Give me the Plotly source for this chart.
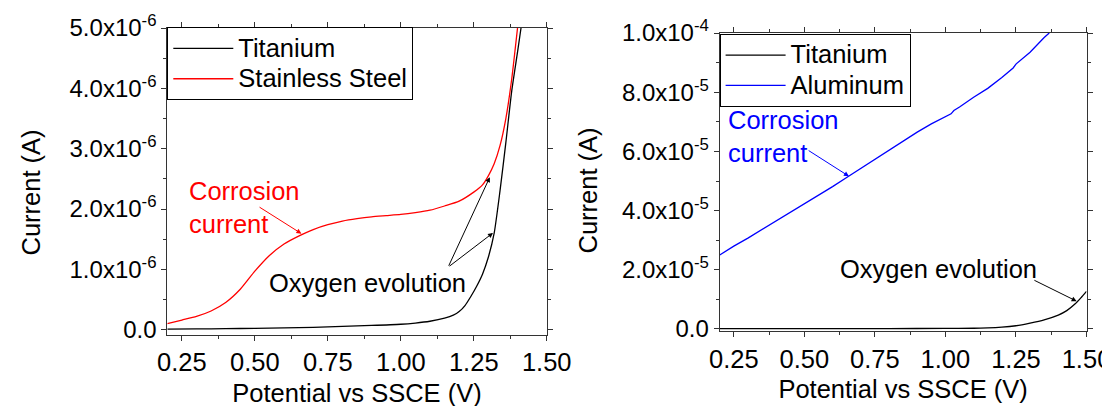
import plotly.graph_objects as go

FONT = "Liberation Sans, Arial, sans-serif"

# ---------------- data (left panel, current in units of 1e-6 A) ----------------
ti_left_x = [0.2, 0.3, 0.4, 0.5, 0.6, 0.7, 0.8, 0.9, 1.0, 1.05, 1.1, 1.15, 1.18, 1.2,
             1.22, 1.24, 1.26, 1.28, 1.3, 1.32, 1.34, 1.36, 1.38, 1.40, 1.412]
ti_left_y = [0.01, 0.012, 0.017, 0.022, 0.03, 0.04, 0.055, 0.07, 0.09, 0.11, 0.14, 0.19,
             0.24, 0.30, 0.40, 0.55, 0.72, 0.92, 1.2, 1.6, 2.3, 3.1, 3.95, 4.6, 5.0]

ss_x = [0.2, 0.25, 0.3, 0.35, 0.4, 0.45, 0.5, 0.55, 0.6, 0.65, 0.7, 0.75, 0.8, 0.85,
        0.9, 0.95, 1.0, 1.05, 1.1, 1.15, 1.2, 1.25, 1.28, 1.3, 1.32, 1.34, 1.36, 1.38, 1.40]
ss_y = [0.10, 0.16, 0.22, 0.31, 0.45, 0.67, 0.97, 1.23, 1.42, 1.55, 1.66, 1.74, 1.80, 1.84,
        1.87, 1.89, 1.91, 1.94, 1.98, 2.05, 2.13, 2.28, 2.40, 2.55, 2.75, 3.05, 3.5, 4.15, 5.0]

# ---------------- data (right panel, current in units of 1e-5 A) ----------------
ti_right_x = [0.2, 0.4, 0.6, 0.8, 1.0, 1.1, 1.15, 1.2, 1.25, 1.3, 1.35, 1.4, 1.43, 1.46, 1.48, 1.5]
ti_right_y = [0.01, 0.01, 0.012, 0.015, 0.02, 0.025, 0.035, 0.06, 0.11, 0.2, 0.31, 0.47,
              0.62, 0.85, 1.05, 1.27]

al_x = [0.2, 0.25, 0.3, 0.35, 0.4, 0.45, 0.5, 0.55, 0.6, 0.65, 0.7, 0.75, 0.8, 0.85, 0.9,
        0.95, 1.0, 1.02, 1.03, 1.05, 1.1, 1.15, 1.2, 1.24, 1.25, 1.3, 1.35, 1.368]
al_y = [2.5, 2.8, 3.07, 3.36, 3.64, 3.92, 4.21, 4.50, 4.81, 5.12, 5.43, 5.75, 6.05, 6.35,
        6.65, 6.93, 7.17, 7.27, 7.38, 7.5, 7.83, 8.13, 8.5, 8.82, 8.95, 9.35, 9.85, 10.0]

# ---------------- tick labels / titles ----------------
x_tick_vals = [0.25, 0.50, 0.75, 1.00, 1.25, 1.50]
x_tick_text = ["0.25", "0.50", "0.75", "1.00", "1.25", "1.50"]

left_y_tick_vals = [0, 1e-6, 2e-6, 3e-6, 4e-6, 5e-6]
left_y_tick_text = ["0.0", "1.0x10<sup>-6</sup>", "2.0x10<sup>-6</sup>", "3.0x10<sup>-6</sup>",
                    "4.0x10<sup>-6</sup>", "5.0x10<sup>-6</sup>"]
right_y_tick_vals = [0, 2e-5, 4e-5, 6e-5, 8e-5, 1e-4]
right_y_tick_text = ["0.0", "2.0x10<sup>-5</sup>", "4.0x10<sup>-5</sup>", "6.0x10<sup>-5</sup>",
                     "8.0x10<sup>-5</sup>", "1.0x10<sup>-4</sup>"]

x_title = "Potential vs SSCE (V)"
y_title = "Current (A)"

W, H = 1110, 406
TXT = 25.5
LEG_TXT = '<span style="font-size:25.5px">{}</span>'

fig = go.Figure()
line_w = 1.3
fig.add_trace(go.Scatter(x=ti_left_x, y=[v * 1e-6 for v in ti_left_y], mode="lines",
                         name=LEG_TXT.format("Titanium"),
                         line=dict(color="black", width=line_w, shape="spline", smoothing=0.6),
                         xaxis="x", yaxis="y", legend="legend"))
fig.add_trace(go.Scatter(x=ss_x, y=[v * 1e-6 for v in ss_y], mode="lines",
                         name=LEG_TXT.format("Stainless Steel"),
                         line=dict(color="red", width=line_w, shape="spline", smoothing=0.6),
                         xaxis="x", yaxis="y", legend="legend"))
fig.add_trace(go.Scatter(x=ti_right_x, y=[v * 1e-5 for v in ti_right_y], mode="lines",
                         name=LEG_TXT.format("Titanium"),
                         line=dict(color="black", width=line_w, shape="spline", smoothing=0.6),
                         xaxis="x2", yaxis="y2", legend="legend2"))
fig.add_trace(go.Scatter(x=al_x, y=[v * 1e-5 for v in al_y], mode="lines",
                         name=LEG_TXT.format("Aluminum"), line=dict(color="blue", width=line_w),
                         xaxis="x2", yaxis="y2", legend="legend2"))

axis_common = dict(showgrid=False, zeroline=False, showline=True, linecolor="#333333", linewidth=1,
                   mirror="allticks", ticks="outside", ticklen=5, tickwidth=1, tickcolor="#333333",
                   automargin=False)
x_tickfont = dict(size=25.5, family=FONT, color="black")
y_tickfont = dict(size=24, family=FONT, color="black")

fig.update_layout(
    width=W, height=H, margin=dict(l=0, r=0, t=0, b=0, autoexpand=False),
    paper_bgcolor="white", plot_bgcolor="white",
    font=dict(family=FONT, size=24, color="black"),
    xaxis=dict(domain=[159.3 / W, 538.7 / W], range=[0.2, 1.5], anchor="y",
               tickmode="array", tickvals=x_tick_vals, ticktext=x_tick_text, tickfont=x_tickfont,
               minor=dict(ticks="outside", ticklen=3, dtick=0.125, tick0=0.25, tickcolor="#333333"),
               title=dict(text=x_title, font=dict(size=TXT, family=FONT), standoff=8),
               **axis_common),
    yaxis=dict(domain=[1 - 326.7 / H, 1 - 20 / H], range=[-0.083e-6, 5e-6], anchor="x",
               tickmode="array", tickvals=left_y_tick_vals, ticktext=left_y_tick_text, tickfont=y_tickfont,
               minor=dict(ticks="outside", ticklen=3, dtick=0.5e-6, tick0=0, tickcolor="#333333"),
               **axis_common),
    xaxis2=dict(domain=[711.7 / W, 1078.5 / W], range=[0.2, 1.5], anchor="y2",
                tickmode="array", tickvals=x_tick_vals, ticktext=x_tick_text, tickfont=x_tickfont,
                minor=dict(ticks="outside", ticklen=3, dtick=0.125, tick0=0.25, tickcolor="#333333"),
                title=dict(text=x_title, font=dict(size=TXT, family=FONT), standoff=8),
                **axis_common),
    yaxis2=dict(domain=[1 - 323.3 / H, 1 - 25 / H], range=[-0.78e-6, 1e-4], anchor="x2",
                tickmode="array", tickvals=right_y_tick_vals, ticktext=right_y_tick_text, tickfont=y_tickfont,
                minor=dict(ticks="outside", ticklen=3, dtick=1e-5, tick0=0, tickcolor="#333333"),
                **axis_common),
    legend=dict(x=159.3 / W, y=1 - 19.3 / H, xanchor="left", yanchor="top",
                bordercolor="black", borderwidth=1, bgcolor="white",
                font=dict(size=21, family=FONT, color="black"), itemwidth=60, tracegroupgap=0),
    legend2=dict(x=711.6 / W, y=1 - 26 / H, xanchor="left", yanchor="top",
                 bordercolor="black", borderwidth=1, bgcolor="white",
                 font=dict(size=21, family=FONT, color="black"), itemwidth=60, tracegroupgap=0),
)

ann_font = dict(size=TXT, family=FONT)
annotations = [
    # y-axis titles
    dict(x=22.5 / W, y=1 - 185 / H, xref="paper", yref="paper", text=y_title, textangle=-90,
         showarrow=False, xanchor="center", yanchor="middle", font=dict(color="black", **ann_font)),
    dict(x=579.5 / W, y=1 - 183 / H, xref="paper", yref="paper", text=y_title, textangle=-90,
         showarrow=False, xanchor="center", yanchor="middle", font=dict(color="black", **ann_font)),
    # left panel texts
    dict(x=0.269, y=2.02e-6, xref="x", yref="y", text="Corrosion<br>current", showarrow=False,
         xanchor="left", yanchor="middle", align="left", font=dict(color="red", **ann_font)),
    dict(x=0.543, y=0.774e-6, xref="x", yref="y", text="Oxygen evolution", showarrow=False,
         xanchor="left", yanchor="middle", font=dict(color="black", **ann_font)),
    # left panel arrows
    dict(x=0.6596, y=1.592e-6, ax=0.511, ay=2.046e-6, xref="x", yref="y", axref="x", ayref="y",
         text="", showarrow=True, arrowhead=2, arrowsize=1, arrowwidth=1, arrowcolor="red"),
    dict(x=1.305, y=2.527e-6, ax=1.162, ay=1.035e-6, xref="x", yref="y", axref="x", ayref="y",
         text="", showarrow=True, arrowhead=2, arrowsize=1, arrowwidth=1, arrowcolor="black"),
    dict(x=1.316, y=1.604e-6, ax=1.162, ay=1.035e-6, xref="x", yref="y", axref="x", ayref="y",
         text="", showarrow=True, arrowhead=2, arrowsize=1, arrowwidth=1, arrowcolor="black"),
    # right panel texts
    dict(x=0.224, y=6.52e-5, xref="x2", yref="y2", text="Corrosion<br>current", showarrow=False,
         xanchor="left", yanchor="middle", align="left", font=dict(color="blue", **ann_font)),
    dict(x=0.621, y=2.03e-5, xref="x2", yref="y2", text="Oxygen evolution", showarrow=False,
         xanchor="left", yanchor="middle", font=dict(color="black", **ann_font)),
    # right panel arrows
    dict(x=0.658, y=5.16e-5, ax=0.51, ay=6.06e-5, xref="x2", yref="y2", axref="x2", ayref="y2",
         text="", showarrow=True, arrowhead=2, arrowsize=1, arrowwidth=1, arrowcolor="blue"),
    dict(x=1.465, y=0.94e-5, ax=1.310, ay=1.67e-5, xref="x2", yref="y2", axref="x2", ayref="y2",
         text="", showarrow=True, arrowhead=2, arrowsize=1, arrowwidth=1, arrowcolor="black"),
]
fig.update_layout(annotations=annotations)

fig.write_html("out.html")
